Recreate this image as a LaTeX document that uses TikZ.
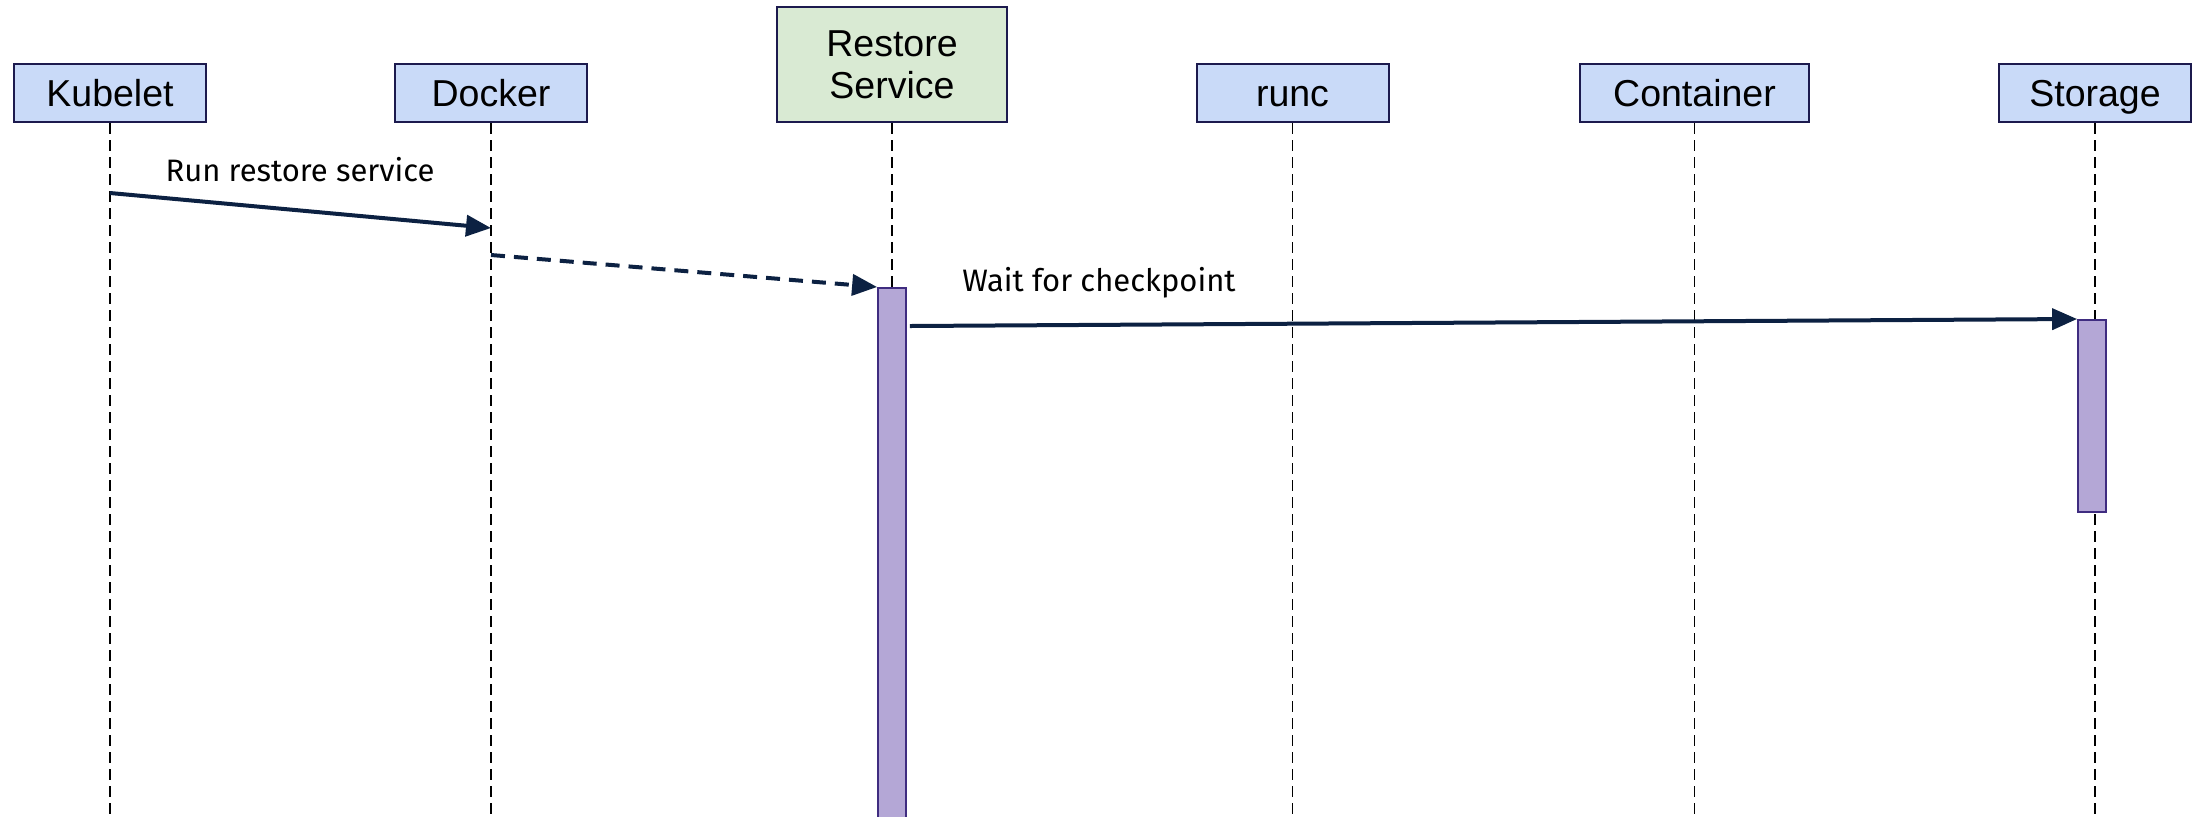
\documentclass[tikz,border=0pt]{standalone}
\usepackage{fontspec}
\setmainfont{Liberation Sans}
\newfontfamily\msgfont{Fira Sans}
\usetikzlibrary{arrows.meta}
\definecolor{actorblue}{HTML}{C9DAF8}
\definecolor{actorgreen}{HTML}{D9EAD3}
\definecolor{boxline}{HTML}{1C1A4E}
\definecolor{barfill}{HTML}{B4A7D6}
\definecolor{barline}{HTML}{3F2C80}
\definecolor{msgcol}{HTML}{0C2142}
\tikzset{
  actor/.style={draw=boxline, line width=1pt, fill=actorblue, minimum width=96pt, minimum height=29pt, inner sep=0pt, text height=15pt, text depth=1.5pt, align=center, font=\fontsize{18.75}{22}\selectfont},
  lifeline/.style={black, line width=0.9pt, dash pattern=on 5.5pt off 3pt},
  actbar/.style={draw=barline, line width=0.9pt, fill=barfill, minimum width=14pt, inner sep=0pt, anchor=north},
  msg/.style={msgcol, line width=2pt, -{Triangle[length=12.5pt,width=10.5pt]}},
  msglabel/.style={font=\msgfont\fontsize{15.5}{18}\selectfont, text=black}
}
\begin{document}
\begin{tikzpicture}[x=0.5pt, y=-0.5pt]
   \useasboundingbox (0,0) rectangle (2196,816);
   \node[actor] (kubelet) at (110,93) {Kubelet};
   \node[actor] (docker) at (491,93) {Docker};
   \node[actor, fill=actorgreen, minimum width=115pt, minimum height=57.5pt, text height=, text depth=] (restore) at (892,64.5) {Restore\\[-1pt]Service};
   \node[actor] (runc) at (1292.5,93) {runc};
   \node[actor, minimum width=114.5pt] (container) at (1694.5,93) {Container};
   \node[actor] (storage) at (2095,93) {Storage};
   \coordinate (bottom) at (0,830);
   \foreach \n in {kubelet,docker,restore,runc,container,storage}
     \draw[lifeline] (\n.south) -- (\n.south |- bottom);
   \node[actbar, minimum height=275pt] (actrestore) at (892,287) {};
   \node[actbar, minimum height=96pt] (actstorage) at (2092,319) {};
   \coordinate (k1) at (kubelet.south |- 0,193);
   \coordinate (d1) at (docker.south |- 0,228);
   \coordinate (d2) at (docker.south |- 0,255);
   \coordinate (r1) at (actrestore.east |- 0,326);
   \draw[msg] (k1) -- (d1);
   \draw[msg, dash pattern=on 7pt off 4.5pt] (d2) -- (actrestore.north west);
   \draw[msg] ([xshift=1.5pt]r1) -- (actstorage.north west);
   \node[msglabel] (runlabel) at (300,170) {Run restore service};
   \node[msglabel] (waitlabel) at (1099,283) {Wait for checkpoint};
\end{tikzpicture}
\end{document}
